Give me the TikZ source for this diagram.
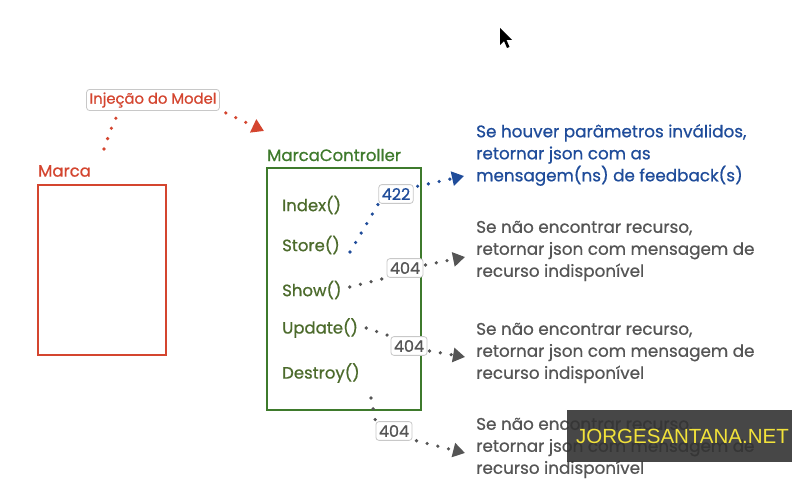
\documentclass[tikz,border=0pt]{standalone}
\usepackage{fontspec}
\setmainfont{Poppins}[FakeBold=0.7]
\newfontfamily\wmfont{Liberation Sans}
\usetikzlibrary{arrows.meta}
\definecolor{cred}{HTML}{D4452F}
\definecolor{cgreen}{HTML}{3E7A2C}
\definecolor{cmeth}{HTML}{4C6B2C}
\definecolor{cblue}{HTML}{1F4C9A}
\definecolor{cgray}{HTML}{555555}
\definecolor{cbadge}{HTML}{C8C8C8}
\definecolor{cwm}{HTML}{333333}
\definecolor{cyel}{HTML}{F2E23A}
\tikzset{
  x=1pt, y=-1pt,
  lbl/.style={anchor=west, inner sep=0pt, font=\fontsize{16.5}{18}\selectfont},
  meth/.style={anchor=west, inner sep=0pt, text=cmeth, font=\fontsize{16.5}{18}\selectfont},
  badge/.style={draw=cbadge, rounded corners=3pt, fill=white, line width=0.8pt,
    inner xsep=3pt, inner ysep=3.5pt, font=\fontsize{16}{17}\selectfont},
  desc/.style={anchor=west, inner sep=0pt, align=left,
    font=\fontsize{16.8}{22}\selectfont},
  dots/.style={line width=3.6pt, line cap=round, dash pattern=on 0pt off 11pt},
  tip/.style={-{Triangle[length=12pt,width=14pt]}},
}
\begin{document}
\begin{tikzpicture}
\useasboundingbox (0,0) rectangle (792,502);
\fill[white] (0,0) rectangle (792,502);

% Marca
\node[lbl, text=cred] (marcalbl) at (38,171) {Marca};
\node[draw=cred, line width=2.2pt, minimum width=128pt, minimum height=170pt, inner sep=0pt] (marca) at (102,270) {};

% Injection label
\node[badge, text=cred, font=\fontsize{14.8}{16}\selectfont, inner ysep=3pt] (inj) at (153,100) {Injeção do Model};
\coordinate (injs) at (104,149);
\coordinate (injt) at (264,131);
\draw[dots, cred] (injs) .. controls (110,132) and (114,118) .. ([xshift=35pt]inj.south west);
\draw[dots, cred, tip] ([xshift=6pt,yshift=-2pt]inj.south east) -- (injt);

% Controller
\node[lbl, text=cgreen] (mclbl) at (267,155) {MarcaController};
\node[draw=cgreen, line width=2.2pt, minimum width=154pt, minimum height=242pt, inner sep=0pt] (mc) at (344,289) {};

\node[meth] (index) at (282,205) {Index()};
\node[meth] (store) at (282,245) {Store()};
\node[meth] (show) at (282,290) {Show()};
\node[meth] (update) at (282,328) {Update()};
\node[meth] (destroy) at (282,373) {Destroy()};

% 422
\node[badge, text=cblue] (b422) at (396,194) {422};
\draw[dots, cblue] ([xshift=10pt,yshift=-7pt]store.east) -- (b422.south west);
\coordinate (t1) at (464,176);
\draw[dots, cblue, tip] ([xshift=4pt,yshift=-2pt]b422.north east) -- (t1);
\node[desc, text=cblue] (d1) at (476,155) {Se houver parâmetros inválidos,\\retornar json com as\\mensagem(ns) de feedback(s)};

% 404 a
\node[badge, text=cgray] (b1) at (405,268) {404};
\draw[dots, cgray] ([xshift=8pt,yshift=3pt]show.east) -- (b1.south west);
\coordinate (t2) at (465,257);
\draw[dots, cgray, tip] ([xshift=2pt,yshift=3pt]b1.east) -- (t2);
\node[desc, text=cgray] (d2) at (476,251) {Se não encontrar recurso,\\retornar json com mensagem de\\recurso indisponível};

% 404 b
\node[badge, text=cgray] (b2) at (409,346) {404};
\draw[dots, cgray] ([xshift=8pt]update.east) -- (b2.north west);
\coordinate (t3) at (465,357);
\draw[dots, cgray, tip] ([xshift=2pt,yshift=-5pt]b2.east) -- (t3);
\node[desc, text=cgray] (d3) at (476,353) {Se não encontrar recurso,\\retornar json com mensagem de\\recurso indisponível};

% 404 c
\node[badge, text=cgray] (b3) at (394,431) {404};
\coordinate (c3) at (371,398);
\draw[dots, cgray] (c3) -- (b3.north west);
\coordinate (t4) at (465,453);
\draw[dots, cgray, tip] ([xshift=4pt]b3.south east) -- (t4);
\node[desc, text=cgray] (d4) at (476,448) {Se não encontrar recurso,\\retornar json com mensagem de\\recurso indisponível};

% cursor
\fill[black] (500,28) -- (500,45) -- (504,41) -- (507,48) -- (509.5,47) -- (506.5,40) -- (512,40) -- cycle;

% watermark
\fill[cwm, opacity=0.9] (567,410) rectangle (792,462);
\node[anchor=west, inner sep=0pt, text=cyel, font=\wmfont\fontsize{20.5}{24}\selectfont] (wm) at (576,436) {JORGESANTANA.NET};
\end{tikzpicture}
\end{document}
